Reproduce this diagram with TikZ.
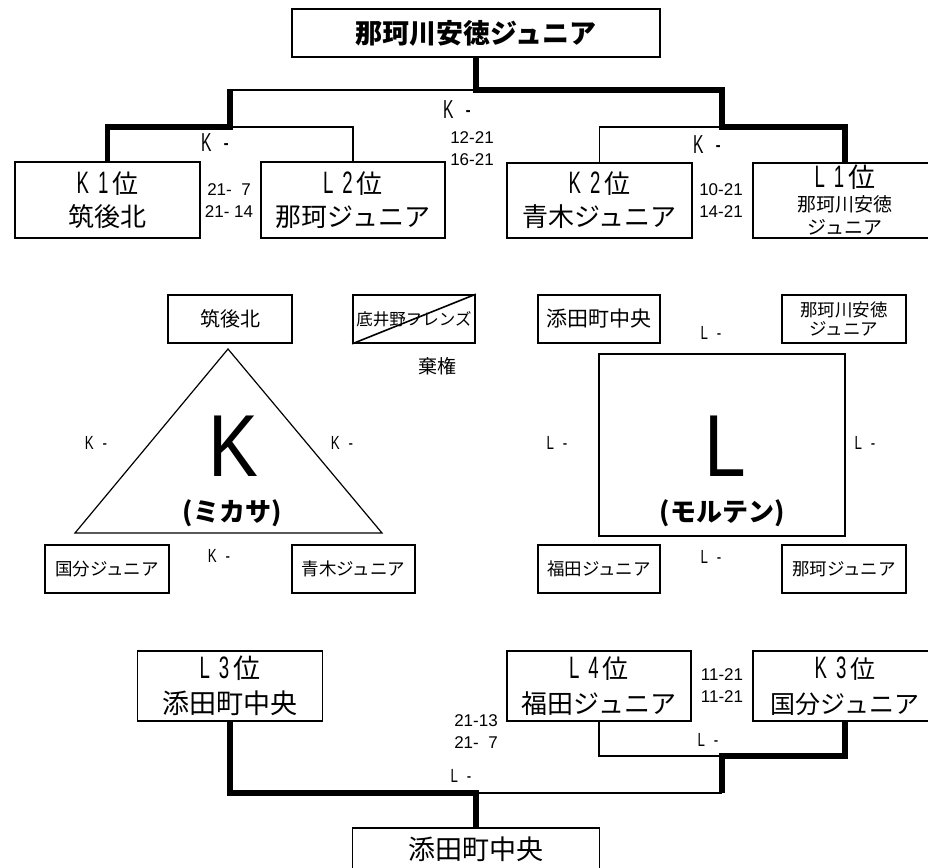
\documentclass[tikz,border=0pt]{standalone}
\usepackage{fontspec}
\setmainfont{Noto Sans CJK JP}
\newfontfamily\bigfont[FakeStretch=0.85]{Liberation Sans}
\newfontfamily\numfont{Liberation Sans}
\newfontfamily\condfont[FakeStretch=0.6]{Liberation Sans}
\newfontfamily\semifont[FakeStretch=0.7]{Liberation Sans}
\newcommand{\fs}[1]{\fontsize{#1}{#1}\selectfont}
\newcommand{\fsb}[2]{\fontsize{#1}{#2}\selectfont}
\newcommand{\rk}[2]{{\condfont\fontsize{31}{31}\selectfont #1\hspace{9pt}#2\hspace{4pt}}位}
\begin{document}
\begin{tikzpicture}[x=1pt,y=-1pt,
  box/.style={draw, line width=1.6pt, inner sep=0pt, align=center},
  bigbox/.style={box, minimum width=#1, font=\fsb{26}{33}},
  thinln/.style={line width=1.6pt},
  thickln/.style={line width=5.5pt},
  lbl/.style={inner sep=0pt, font=\condfont\fs{26}},
  slbl/.style={inner sep=0pt, font=\semifont\fs{19}},
  score/.style={inner sep=0pt, font=\numfont\fsb{17}{22}, align=center},
  shape2/.style={line width=1.2pt},
]
\useasboundingbox (0,0) rectangle (928,867);
% ---------- top bracket ----------
\node[box, minimum width=368pt, minimum height=48pt, font=\bfseries\fs{27}] (top) at (476,33) {那珂川安徳ジュニア};
\node[bigbox=185pt, minimum height=76pt] (k1) at (107.5,200) {\rk{K}{1}\\筑後北};
\node[bigbox=184pt, minimum height=76pt] (l2) at (353,200) {\rk{L}{2}\\那珂ジュニア};
\node[bigbox=185pt, minimum height=75pt] (k2) at (599.5,200.5) {\rk{K}{2}\\青木ジュニア};
\node[box, minimum width=184pt, minimum height=75pt, font=\fsb{27}{23.5}] (l1) at (845,200.5) {\rk{L}{1}\\{\fs{19}那珂川安徳}\\{\fs{19}ジュニア}};
\coordinate (jTop) at (476,90);
\coordinate (jR) at (722,90);
\coordinate (jR2) at (722,127);
\coordinate (jL) at (230,89.2);
\coordinate (jL2) at (230,127);
\draw[thickln] (top.south) |- (jR) -- (jR2) -| (l1.north);
\draw[thinln] (jTop) -- (230,90);
\draw[thickln] (jL) -- (jL2) -| (k1.north);
\draw[thinln] (jL2) -| (l2.north);
\draw[thinln] (jR2) -| (k2.north);
\node[lbl] (t1) at (457,110) {K\hspace{12pt}-};
\node[score] (t2) at (472,149) {12-21\\16-21};
\node[lbl] (t3) at (215,143) {K\hspace{12pt}-};
\node[score] (t4) at (229,201) {21- \ 7\\21- 14};
\node[lbl] (t5) at (707,145) {K\hspace{12pt}-};
\node[score] (t6) at (721,201) {10-21\\14-21};
% ---------- K group ----------
\node[box, minimum width=124pt, minimum height=48pt, font=\fs{20}] (gk) at (230,319) {筑後北};
\node[box, minimum width=122pt, minimum height=48pt, font=\fs{16.5}] (sk) at (414,319) {底井野フレンズ};
\draw[thinln] (sk.south west) -- (sk.north east);
\node[inner sep=0pt, font=\fs{19}] (kiken) at (437,366) {棄権};
\coordinate (ta) at (228,349);
\coordinate (tb) at (75,533);
\coordinate (tc) at (382,533);
\draw[shape2] (ta) -- (tb) -- (tc) -- cycle;
\node[inner sep=0pt, font=\bigfont\fs{88}] (bigK) at (233,446) {K};
\node[inner sep=0pt, font=\bfseries\fs{26}] (mikasa) at (232,513) {(ミカサ)};
\node[slbl] (k4) at (96,443) {K\hspace{9pt}-};
\node[slbl] (k5) at (342,443) {K\hspace{9pt}-};
\node[slbl] (k6) at (219,556) {K\hspace{9pt}-};
\node[box, minimum width=124pt, minimum height=48pt, font=\fs{17.5}] (kb) at (107,569) {国分ジュニア};
\node[box, minimum width=123pt, minimum height=48pt, font=\fs{17.5}] (ab) at (353.5,569) {青木ジュニア};
% ---------- L group ----------
\node[box, minimum width=122pt, minimum height=48pt, font=\fs{21}] (sd) at (599,319) {添田町中央};
\node[box, minimum width=124pt, minimum height=48pt, font=\fsb{17.5}{18.5}] (nh) at (844,319) {那珂川安徳\\ジュニア};
\draw[shape2] (599,354) rectangle (845,536);
\node[inner sep=0pt, font=\bigfont\fs{88}] (bigL) at (725,446) {L};
\node[inner sep=0pt, font=\bfseries\fs{26}] (molten) at (722,513) {(モルテン)};
\node[slbl] (l4t) at (711,333) {L\hspace{9pt}-};
\node[slbl] (l5t) at (557,443) {L\hspace{9pt}-};
\node[slbl] (l6t) at (865,443) {L\hspace{9pt}-};
\node[slbl] (l7t) at (711,557) {L\hspace{9pt}-};
\node[box, minimum width=122pt, minimum height=48pt, font=\fs{17.5}] (fk) at (599,569) {福田ジュニア};
\node[box, minimum width=124pt, minimum height=48pt, font=\fs{17.5}] (nk) at (844,569) {那珂ジュニア};
% ---------- bottom bracket ----------
\node[bigbox=185pt, minimum height=70pt, font=\fsb{27}{35}] (l3) at (230,686) {\rk{L}{3}\\添田町中央};
\node[bigbox=184pt, minimum height=70pt, font=\fsb{26}{35}] (l4) at (599,686) {\rk{L}{4}\\福田ジュニア};
\node[bigbox=184pt, minimum height=70pt, font=\fsb{25}{35}] (k3) at (845,686) {\rk{K}{3}\\国分ジュニア};
\node[box, minimum width=247pt, minimum height=42pt, font=\fs{27}] (fin) at (476,849) {添田町中央};
\coordinate (jB) at (476,793);
\coordinate (jC) at (722,793);
\coordinate (jD) at (722,756);
\draw[thickln] (l3.south) |- (jB) -- (fin.north);
\draw[thinln] (jB) -- (jC);
\draw[thickln] (jC) -- (jD) -| (k3.south);
\draw[thinln] (jD) -| (l4.south);
\node[score] (s1) at (476,732) {21-13\\21- \ 7};
\node[slbl] (s2) at (461,776) {L\hspace{9pt}-};
\node[score] (s3) at (722,686) {11-21\\11-21};
\node[slbl] (s4) at (708,740) {L\hspace{9pt}-};
\end{tikzpicture}
\end{document}
